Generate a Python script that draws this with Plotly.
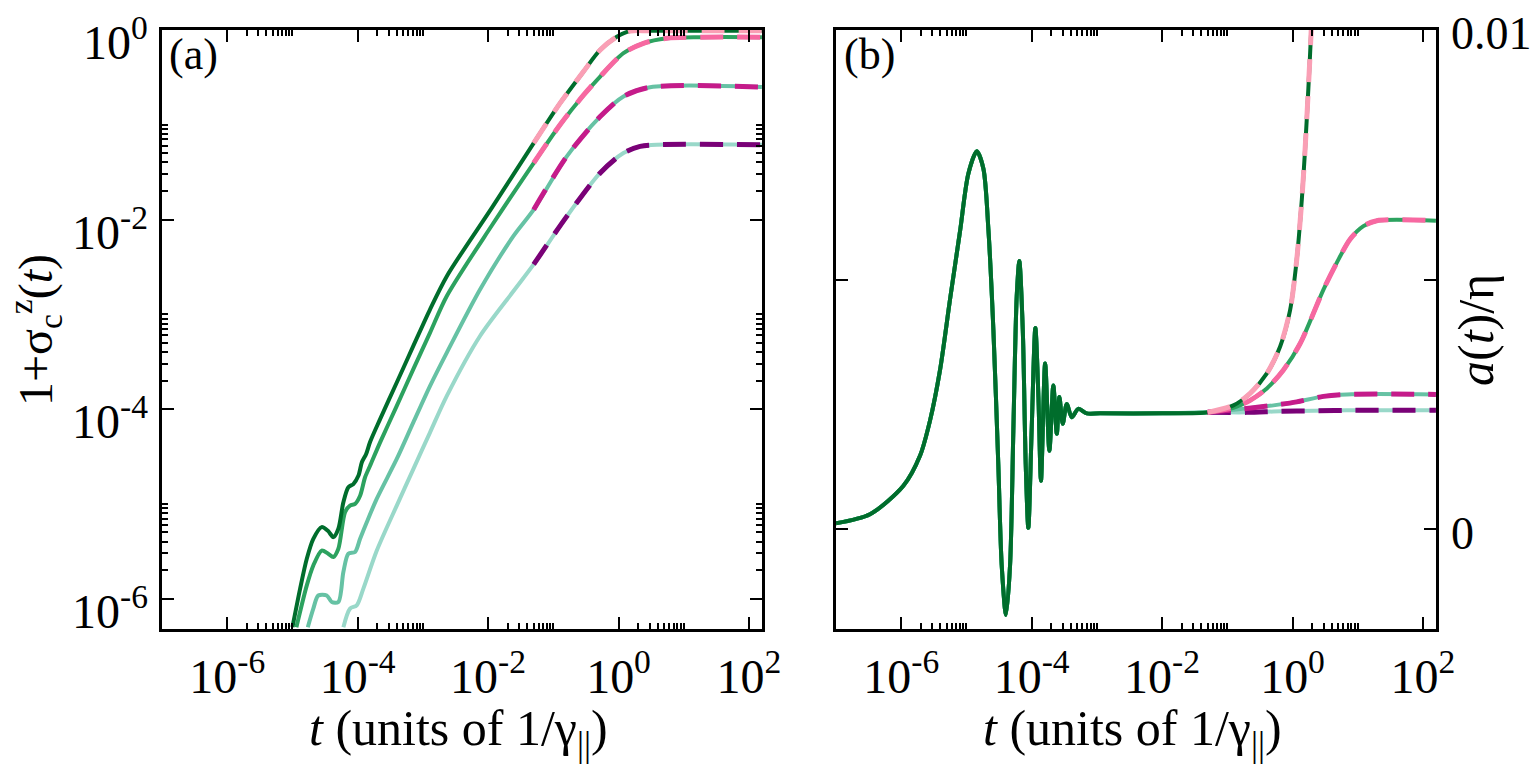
import math
import plotly.graph_objects as go

# ---------------- data ----------------
# Panel (a): 1 + sigma_c^z(t) (log-log), four parameter sets
t1a = [1.0e-5, 1.31e-5, 1.66e-5, 2.09e-5, 2.81e-5, 3.5e-5, 4.24e-5, 5.06e-5, 6.04e-5, 7.20e-5,
       8.59e-5, 1.03e-4, 1.16e-4, 1.35e-4, 1.55e-4, 2.21e-4, 3.98e-4, 7.14e-4, 1.29e-3, 2.33e-3,
       0.0114, 0.05, 0.127, 0.290, 0.523, 0.942, 1.51, 3.06, 158]
y1a = [5.0e-7, 1.27e-6, 2.64e-6, 4.28e-6, 5.69e-6, 5.2e-6, 4.46e-6, 5.46e-6, 1.04e-5, 1.50e-5,
       1.62e-5, 1.99e-5, 2.75e-5, 3.36e-5, 4.50e-5, 7.85e-5, 1.91e-4, 4.64e-4, 1.13e-3, 2.53e-3,
       0.0133, 0.064, 0.169, 0.364, 0.616, 0.850, 0.975, 0.98, 0.98]

t2a = [1.15e-5, 1.66e-5, 2.09e-5, 2.81e-5, 3.5e-5, 4.24e-5, 5.06e-5, 6.41e-5, 7.64e-5, 9.12e-5,
       1.09e-4, 1.30e-4, 1.55e-4, 2.21e-4, 3.98e-4, 7.14e-4, 1.29e-3, 2.33e-3, 0.0114, 0.05,
       0.127, 0.290, 0.523, 1.19, 2.41, 5.5, 17.9, 158]
y2a = [5.0e-7, 1.38e-6, 2.24e-6, 3.22e-6, 3.0e-6, 2.75e-6, 3.36e-6, 8.18e-6, 9.60e-6, 1.0e-5,
       1.22e-5, 1.91e-5, 2.53e-5, 4.46e-5, 1.08e-4, 2.64e-4, 6.41e-4, 1.56e-3, 8.65e-3, 0.0395,
       0.100, 0.205, 0.323, 0.569, 0.724, 0.818, 0.840, 0.840]

t3a = [1.72e-5, 2.09e-5, 2.49e-5, 3.36e-5, 4.01e-5, 5.06e-5, 6.04e-5, 7.20e-5, 9.12e-5, 1.09e-4,
       1.38e-4, 1.96e-4, 3.98e-4, 7.14e-4, 1.29e-3, 2.33e-3, 7.53e-3, 0.0244, 0.05, 0.161,
       0.523, 1.19, 3.05, 158]
y3a = [5.0e-7, 7.85e-7, 1.08e-6, 1.08e-6, 9.23e-7, 9.23e-7, 1.91e-6, 2.98e-6, 3.10e-6, 4.28e-6,
       6.41e-6, 1.13e-5, 2.98e-5, 7.24e-5, 1.76e-4, 3.95e-4, 1.83e-3, 6.67e-3, 0.0127, 0.0464,
       0.122, 0.199, 0.249, 0.25]

t4a = [6.04e-5, 7.64e-5, 9.68e-5, 1.22e-4, 1.96e-4, 3.98e-4, 7.14e-4, 1.29e-3, 2.33e-3, 7.53e-3,
       0.0244, 0.05, 0.161, 0.523, 1.19, 2.14, 3.87, 158]
y4a = [5.0e-7, 7.85e-7, 8.5e-7, 1.27e-6, 3.2e-6, 9.60e-6, 2.33e-5, 5.69e-5, 1.38e-4, 5.91e-4,
       1.75e-3, 3.36e-3, 0.0108, 0.0310, 0.0504, 0.0591, 0.0616, 0.0616]

# Panel (b): a(t)/eta (linear), common early part, then four branches
tb_common = [1.0e-7, 3.32e-7, 1.08e-6, 1.94e-6, 2.77e-6, 3.94e-6, 5.60e-6, 7.98e-6, 1.07e-5, 1.44e-5,
             1.82e-5, 2.17e-5, 2.59e-5, 3.08e-5, 3.47e-5, 4.04e-5, 4.67e-5, 5.24e-5, 5.90e-5, 6.47e-5,
             7.31e-5, 8.11e-5, 8.89e-5, 1.00e-4, 1.14e-4, 1.27e-4, 1.39e-4, 1.61e-4, 1.87e-4, 2.15e-4,
             2.43e-4, 2.66e-4, 3.00e-4, 3.45e-4, 4.12e-4, 5.20e-4, 7.00e-4, 1.12e-3, 0.01, 0.05]
ab_common = [1.2e-4, 3.0e-4, 8.7e-4, 1.47e-3, 2.18e-3, 3.19e-3, 4.60e-3, 5.97e-3, 7.12e-3, 7.57e-3,
             7.22e-3, 6.01e-3, 3.99e-3, 1.30e-3, -7.1e-4, -1.72e-3, -7.1e-4, 1.98e-3, 4.66e-3, 5.37e-3,
             3.99e-3, 1.30e-3, 2.6e-5, 1.98e-3, 4.03e-3, 2.65e-3, 9.7e-4, 3.32e-3, 1.57e-3, 2.88e-3,
             1.91e-3, 2.65e-3, 2.11e-3, 2.51e-3, 2.24e-3, 2.41e-3, 2.32e-3, 2.32e-3, 2.32e-3, 2.34e-3]

t1b = [0.124, 0.224, 0.404, 0.646, 0.918, 1.16, 1.39, 1.56, 1.75, 1.93, 2.1]
a1b = [2.48e-3, 2.72e-3, 3.12e-3, 3.66e-3, 4.39e-3, 5.40e-3, 6.61e-3, 7.62e-3, 8.83e-3, 9.97e-3, 0.0112]
t2b = [0.124, 0.224, 0.404, 0.726, 1.31, 2.98, 4.78, 7.64, 12.2, 19.6, 158]
a2b = [2.43e-3, 2.58e-3, 2.82e-3, 3.19e-3, 3.72e-3, 4.80e-3, 5.34e-3, 5.81e-3, 6.07e-3, 6.18e-3, 6.18e-3]
t3b = [0.124, 0.509, 1.16, 2.98, 6.81, 158]
a3b = [2.39e-3, 2.48e-3, 2.55e-3, 2.66e-3, 2.70e-3, 2.70e-3]
t4b = [0.199, 0.646, 2.09, 6.81, 158]
a4b = [2.34e-3, 2.36e-3, 2.37e-3, 2.38e-3, 2.38e-3]

T_SWITCH = 0.05   # where the analytic (dashed) curves start

x_tickvals = [1e-6, 1e-4, 1e-2, 1, 100]
x_ticktext = ["10<sup>-6</sup>", "10<sup>-4</sup>", "10<sup>-2</sup>", "10<sup>0</sup>", "10<sup>2</sup>"]
ya_tickvals = [1e-6, 1e-4, 1e-2, 1]
ya_ticktext = ["10<sup>-6</sup>", "10<sup>-4</sup>", "10<sup>-2</sup>", "10<sup>0</sup>"]
yb_tickvals = [0, 0.005, 0.01]
yb_ticktext = ["0", "", "0.01"]

GREENS = ["#006d2c", "#2ca25f", "#66c2a4", "#99d8c9"]
PINKS = ["#fa9fb5", "#f768a1", "#c51b8a", "#7a0177"]

# ---------------- figure ----------------
FONT = "Liberation Serif"
fig = go.Figure()

curves_a = [(t1a, y1a), (t2a, y2a), (t3a, y3a), (t4a, y4a)]
curves_b = [(tb_common + t1b, ab_common + a1b), (tb_common + t2b, ab_common + a2b),
            (tb_common + t3b, ab_common + a3b), (tb_common + t4b, ab_common + a4b)]

GW, PW, DASH = 4, 5, "23px,14px"

for (ax_, ay_, curves) in [("x", "y", curves_a), ("x2", "y2", curves_b)]:
    order = [3, 2, 1, 0]
    for i in order:
        t, v = curves[i]
        fig.add_trace(go.Scatter(x=t, y=v, mode="lines", xaxis=ax_, yaxis=ay_,
                                 line=dict(color=GREENS[i], width=GW, shape="spline", smoothing=0.8),
                                 showlegend=False, hoverinfo="skip"))
    for i in order:
        t, v = curves[i]
        td = [tt for tt in t if tt >= T_SWITCH]
        vd = [vv for tt, vv in zip(t, v) if tt >= T_SWITCH]
        fig.add_trace(go.Scatter(x=td, y=vd, mode="lines", xaxis=ax_, yaxis=ay_,
                                 line=dict(color=PINKS[i], width=PW, dash=DASH, shape="spline", smoothing=0.8),
                                 showlegend=False, hoverinfo="skip"))

minor_x = [k * 10.0 ** e for e in (-6, -4, -2, 0) for k in range(2, 11)]
minor_ya = [k * 10.0 ** e for e in (-6, -4, -2) for k in range(2, 11)]

axis_common = dict(showline=True, linecolor="black", linewidth=2.5, mirror="allticks",
                   ticks="inside", ticklen=12, tickwidth=2, tickcolor="black",
                   showgrid=False, zeroline=False, automargin=False)

xdomA = [162 / 1536, 762 / 1536]
xdomB = [836 / 1536, 1436 / 1536]
ydom = [1 - 629 / 765, 1 - 30 / 765]

xaxis_cfg = dict(type="log", range=[-7.0, 2.2], tickmode="array", tickvals=x_tickvals,
                 ticktext=x_ticktext, ticklabelstandoff=4,
                 tickfont=dict(family=FONT, size=48, color="black"),
                 minor=dict(tickmode="array", tickvals=minor_x, ticks="inside", ticklen=6,
                            tickwidth=2, tickcolor="black", showgrid=False),
                 **axis_common)

fig.update_layout(
    width=1536, height=765, margin=dict(l=0, r=0, t=0, b=0, autoexpand=False),
    paper_bgcolor="white", plot_bgcolor="white", showlegend=False,
    font=dict(family=FONT, color="black"),
    xaxis=dict(domain=xdomA, anchor="y", **xaxis_cfg),
    xaxis2=dict(domain=xdomB, anchor="y2", **xaxis_cfg),
    yaxis=dict(domain=ydom, anchor="x", type="log", range=[-6.32, 0.0], tickmode="array",
               tickvals=ya_tickvals, showticklabels=False,
               minor=dict(tickmode="array", tickvals=minor_ya, ticks="inside", ticklen=6,
                          tickwidth=2, tickcolor="black", showgrid=False),
               **axis_common),
    yaxis2=dict(domain=ydom, anchor="x2", side="right", range=[-0.002, 0.01], tickmode="array",
                tickvals=yb_tickvals, showticklabels=False,
                **axis_common),
)

# y tick labels (placed at the tick values through the axes)
tick_font = dict(family=FONT, size=48, color="black")
for v, txt in zip(ya_tickvals, ya_ticktext):
    fig.add_annotation(text=txt, x=150 / 1536, xref="paper", y=math.log10(v), yref="y",
                       xanchor="right", yanchor="middle", yshift=-9, showarrow=False,
                       font=tick_font)
for v, txt in zip(yb_tickvals, yb_ticktext):
    if txt:
        fig.add_annotation(text=txt, x=1449 / 1536, xref="paper", y=v, yref="y2",
                           xanchor="left", yanchor="middle", yshift=-4, showarrow=False,
                           font=dict(family=FONT, size=46, color="black"))

ann_font = dict(family=FONT, size=50, color="black")
fig.add_annotation(text="(a)", x=167 / 1536, y=1 - 55 / 765, xref="paper", yref="paper",
                   xanchor="left", yanchor="middle", showarrow=False,
                   font=dict(family=FONT, size=44, color="black"))
fig.add_annotation(text="(b)", x=842 / 1536, y=1 - 55 / 765, xref="paper", yref="paper",
                   xanchor="left", yanchor="middle", showarrow=False,
                   font=dict(family=FONT, size=44, color="black"))
fig.add_annotation(text="<i>t</i> (units of 1/γ<sub>||</sub>)", x=458 / 1536, y=1 - 732 / 765,
                   xref="paper", yref="paper", xanchor="center", yanchor="middle",
                   showarrow=False, font=ann_font)
fig.add_annotation(text="<i>t</i> (units of 1/γ<sub>||</sub>)", x=1132 / 1536, y=1 - 732 / 765,
                   xref="paper", yref="paper", xanchor="center", yanchor="middle",
                   showarrow=False, font=ann_font)
fig.add_annotation(text="1+σ<sub>c</sub><sup>z</sup>(<i>t</i>)", x=35 / 1536, y=1 - 330 / 765,
                   xref="paper", yref="paper", xanchor="center", yanchor="middle",
                   textangle=-90, showarrow=False, font=dict(family=FONT, size=48, color="black"))
fig.add_annotation(text="<i>a</i>(<i>t</i>)/η", x=1476 / 1536, y=1 - 330 / 765,
                   xref="paper", yref="paper", xanchor="center", yanchor="middle",
                   textangle=-90, showarrow=False, font=ann_font)

fig.write_html("out.html")
